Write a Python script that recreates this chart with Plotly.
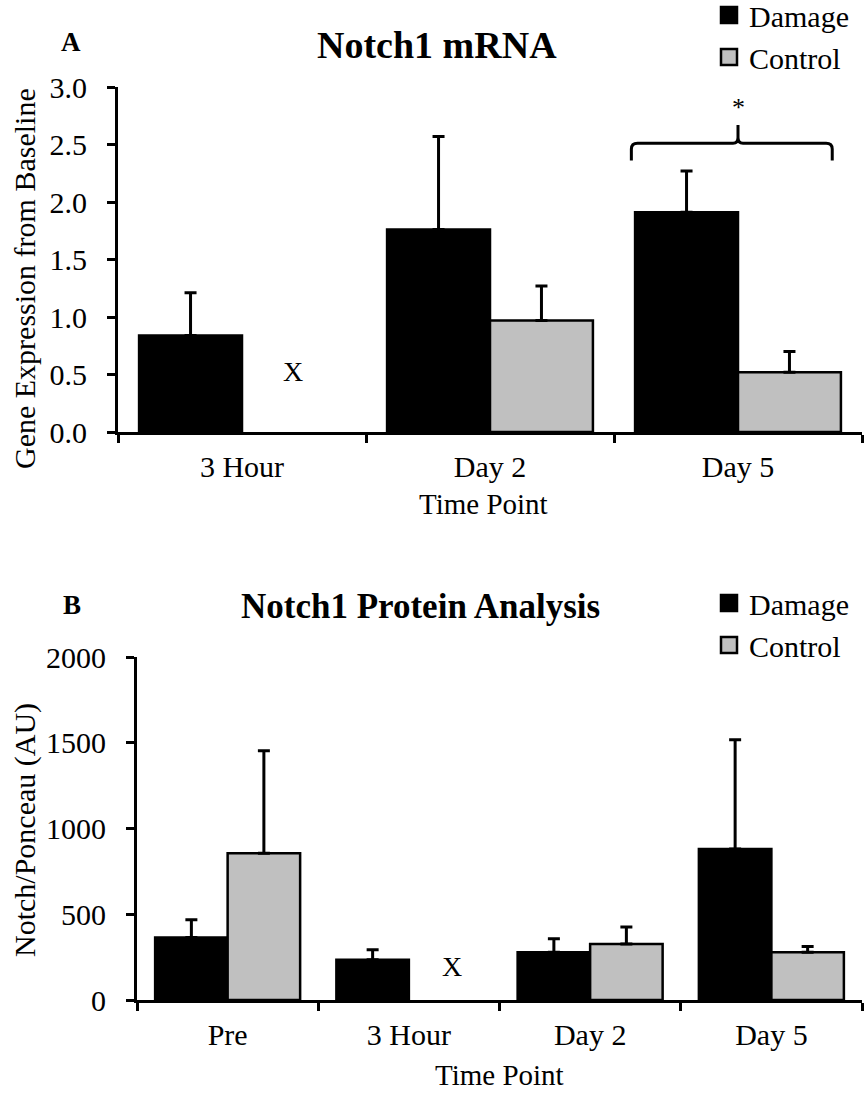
import plotly.graph_objects as go

# ---------------- data ----------------
mrna_categories = ["3 Hour", "Day 2", "Day 5"]
mrna_damage = [0.84, 1.76, 1.91]
mrna_damage_err = [0.37, 0.81, 0.36]
mrna_control = [None, 0.97, 0.52]
mrna_control_err = [None, 0.30, 0.18]
mrna_ticks = [0.0, 0.5, 1.0, 1.5, 2.0, 2.5, 3.0]

protein_categories = ["Pre", "3 Hour", "Day 2", "Day 5"]
protein_damage = [365, 234, 279, 880]
protein_damage_err = [103, 59, 78, 638]
protein_control = [855, None, 326, 279]
protein_control_err = [599, None, 99, 33]
protein_ticks = [0, 500, 1000, 1500, 2000]

series_names = ["Damage", "Control"]
colors = ["#000000", "#c0c0c0"]

FONT = "Liberation Serif, Times New Roman, serif"
W, H = 864, 1094


def px(x):
    return x / W


def py(y):
    return 1 - y / H


fig = go.Figure()

top_w = 0.415
bot_w = 0.40


def add_bars(cats, vals, errs, name, color, w, offset, xa, ya):
    fig.add_trace(go.Bar(
        x=cats, y=vals, name=name, width=w, offset=offset,
        marker=dict(color=color, line=dict(color="black", width=2.5)),
        error_y=dict(type="data", symmetric=False, array=errs,
                     arrayminus=[0 if e is not None else None for e in errs],
                     color="black", thickness=3, width=6),
        xaxis=xa, yaxis=ya, showlegend=False))


add_bars(mrna_categories, mrna_damage, mrna_damage_err, series_names[0], colors[0], top_w, -top_w, "x", "y")
add_bars(mrna_categories, mrna_control, mrna_control_err, series_names[1], colors[1], top_w, 0, "x", "y")
add_bars(protein_categories, protein_damage, protein_damage_err, series_names[0], colors[0], bot_w, -bot_w, "x2", "y2")
add_bars(protein_categories, protein_control, protein_control_err, series_names[1], colors[1], bot_w, 0, "x2", "y2")

# legend entries
for lg, xa, ya in [("legend", "x", "y"), ("legend2", "x2", "y2")]:
    for name, color in zip(series_names, colors):
        fig.add_trace(go.Scatter(
            x=[None], y=[None], mode="markers", name=name, legend=lg,
            marker=dict(symbol="square", size=16, color=color,
                        line=dict(color="black", width=2.5)),
            xaxis=xa, yaxis=ya, showlegend=True))

axis_common = dict(showline=True, linecolor="black", linewidth=3, showgrid=False,
                   zeroline=False, ticks="outside", tickcolor="black", tickwidth=2.5,
                   ticklen=8, tickfont=dict(family=FONT, size=30, color="black"))

fig.update_layout(
    width=W, height=H, margin=dict(l=0, r=0, t=0, b=0, autoexpand=False),
    paper_bgcolor="white", plot_bgcolor="white", barmode="overlay",
    font=dict(family=FONT, color="black"),
    xaxis=dict(domain=[px(118), px(862)], anchor="y", type="category",
               tickson="boundaries", range=[-0.5, 2.5], ticklabelstandoff=6, **axis_common),
    yaxis=dict(domain=[py(432), py(87)], anchor="x", range=[0, 3.0],
               tickvals=mrna_ticks, ticktext=[f"{v:.1f}" for v in mrna_ticks],
               ticklabelstandoff=14, **axis_common),
    xaxis2=dict(domain=[px(137), px(862)], anchor="y2", type="category",
                tickson="boundaries", range=[-0.5, 3.5], ticklabelstandoff=6, **axis_common),
    yaxis2=dict(domain=[py(1000), py(657)], anchor="x2", range=[0, 2000],
                tickvals=protein_ticks, ticktext=[str(v) for v in protein_ticks],
                ticklabelstandoff=14, **axis_common),
    legend=dict(x=px(709), y=py(-11), xanchor="left", yanchor="top",
                font=dict(family=FONT, size=30, color="black"), bgcolor="rgba(0,0,0,0)",
                tracegroupgap=0),
    legend2=dict(x=px(709), y=py(577), xanchor="left", yanchor="top",
                 font=dict(family=FONT, size=30, color="black"), bgcolor="rgba(0,0,0,0)",
                 tracegroupgap=0),
)

ann = []


def paper_text(text, x, y, size, angle=0):
    ann.append(dict(text=text, x=px(x), y=py(y), xref="paper", yref="paper",
                    xanchor="center", yanchor="middle", textangle=angle,
                    showarrow=False, font=dict(family=FONT, size=size, color="black")))


# panel letters and titles
paper_text("<b>A</b>", 71, 42, 27)
paper_text("<b>Notch1 mRNA</b>", 437, 45, 38)
paper_text("<b>B</b>", 72, 605, 27)
paper_text("<b>Notch1 Protein Analysis</b>", 420, 606, 35)
# axis titles
paper_text("Gene Expression from Baseline", 25, 279, 30, -90)
paper_text("Time Point", 483, 504, 29)
paper_text("Notch/Ponceau (AU)", 25, 830, 30, -90)
paper_text("Time Point", 499, 1075, 29)

# missing-data markers (X) at the control slot
missing_top = mrna_categories.index("3 Hour")
ann.append(dict(text="X", x=missing_top + top_w / 2, y=0.53, xref="x", yref="y",
                xanchor="center", yanchor="middle",
                showarrow=False, font=dict(family=FONT, size=28, color="black")))
missing_bot = protein_categories.index("3 Hour")
ann.append(dict(text="X", x=missing_bot + bot_w / 2 + 0.04, y=195, xref="x2", yref="y2",
                xanchor="center", yanchor="middle",
                showarrow=False, font=dict(family=FONT, size=28, color="black")))

# significance brace for Day 5
sig_cat = mrna_categories.index("Day 5")
brace_line, brace_end, brace_peak, star_y = 2.51, 2.36, 2.67, 2.82
x0, x1, xm = sig_cat - 0.43, sig_cat + 0.38, sig_cat
dx, dy = 0.025, 0.05
path = (f"M{x0},{brace_end} L{x0},{brace_line-dy} Q{x0},{brace_line} {x0+dx},{brace_line} "
        f"L{xm-dx*0.8},{brace_line} Q{xm},{brace_line} {xm},{brace_line+dy} L{xm},{brace_peak} "
        f"M{xm},{brace_line+dy} Q{xm},{brace_line} {xm+dx*0.8},{brace_line} "
        f"L{x1-dx},{brace_line} Q{x1},{brace_line} {x1},{brace_line-dy} L{x1},{brace_end}")
fig.add_shape(type="path", path=path, xref="x", yref="y",
              line=dict(color="black", width=3), fillcolor="rgba(0,0,0,0)")
ann.append(dict(text="*", x=xm, y=star_y, xref="x", yref="y", showarrow=False,
                xanchor="center", yanchor="middle",
                font=dict(family=FONT, size=26, color="black")))

fig.update_layout(annotations=ann)
fig.write_html("out.html")
